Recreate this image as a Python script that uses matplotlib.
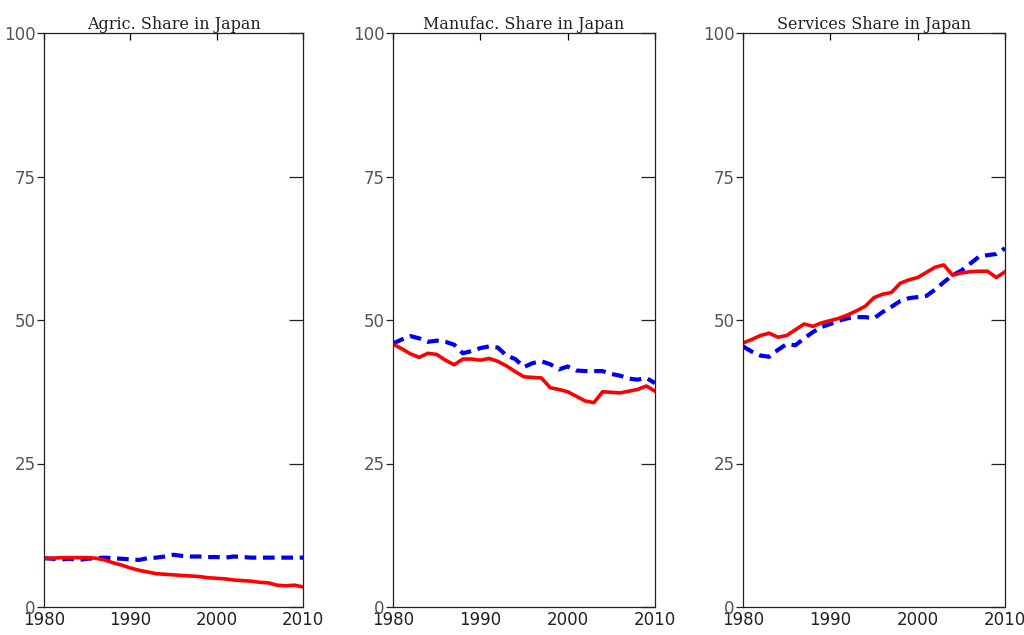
import matplotlib
matplotlib.use("Agg")
import matplotlib.pyplot as plt
from matplotlib import lines as mlines

years = list(range(1980, 2011))

agr_red = [8.5, 8.5, 8.6, 8.6, 8.6, 8.6, 8.5, 8.2, 7.7, 7.3, 6.8, 6.4, 6.1, 5.8, 5.7, 5.6,
           5.5, 5.4, 5.3, 5.1, 5.0, 4.9, 4.7, 4.6, 4.5, 4.3, 4.2, 3.8, 3.7, 3.8, 3.5]
agr_blue = [8.5, 8.4, 8.3, 8.4, 8.2, 8.4, 8.5, 8.6, 8.5, 8.4, 8.3, 8.2, 8.5, 8.6, 8.8, 9.1,
            8.9, 8.8, 8.8, 8.7, 8.7, 8.6, 8.8, 8.7, 8.6, 8.6, 8.6, 8.6, 8.6, 8.6, 8.6]

man_red = [45.8, 45.0, 44.1, 43.5, 44.2, 44.0, 43.0, 42.2, 43.2, 43.2, 43.0, 43.3, 42.8, 42.0,
           41.0, 40.1, 40.0, 39.9, 38.2, 37.9, 37.5, 36.7, 35.9, 35.6, 37.5, 37.4, 37.3, 37.6,
           37.9, 38.5, 37.6]
man_blue = [45.9, 46.6, 47.2, 46.8, 46.2, 46.4, 46.2, 45.7, 44.2, 44.6, 45.1, 45.4, 45.2, 43.8,
            43.2, 41.8, 42.5, 42.8, 42.3, 41.4, 41.9, 41.2, 41.1, 41.1, 41.1, 40.6, 40.3, 39.8,
            39.6, 39.9, 39.0]

ser_red = [46.0, 46.6, 47.3, 47.7, 47.0, 47.3, 48.3, 49.3, 48.9, 49.5, 49.9, 50.3, 50.9, 51.6,
           52.4, 53.9, 54.5, 54.8, 56.4, 57.0, 57.4, 58.3, 59.2, 59.6, 57.8, 58.2, 58.4, 58.5,
           58.5, 57.4, 58.4]
ser_blue = [45.4, 44.5, 43.8, 43.6, 44.8, 45.8, 45.6, 46.8, 47.9, 48.8, 49.3, 49.9, 50.3, 50.5,
            50.5, 50.3, 51.4, 52.3, 53.3, 53.8, 54.0, 54.2, 55.3, 56.6, 57.8, 58.6, 59.8, 61.0,
            61.3, 61.5, 62.5]

titles = ["Agric. Share in Japan", "Manufac. Share in Japan", "Services Share in Japan"]
reds = [agr_red, man_red, ser_red]
blues = [agr_blue, man_blue, ser_blue]
yticks = [0, 25, 50, 75, 100]
xticks = [1980, 1990, 2000, 2010]

fig = plt.figure(figsize=(10.24, 6.35), dpi=100)
lefts = [44, 393, 743]
widths = [259, 262, 262]
for i in range(3):
    ax = fig.add_axes([lefts[i] / 1024, 28 / 635, widths[i] / 1024, 574 / 635])
    ax.plot(years, blues[i], color="#0000ee", lw=3.0, dashes=(2.8, 1.6))
    ax.plot(years, reds[i], color="#ff0000", lw=2.6)
    ax.set_xlim(1980, 2010)
    ax.set_ylim(0, 100)
    ax.set_xticks(xticks)
    ax.set_yticks(yticks)
    ax.tick_params(axis="y", left=True, right=True, direction="out", length=5,
                   width=0.9, labelsize=12, labelcolor="#555555", color="#222222", pad=1)
    ax.tick_params(axis="x", bottom=False, top=True, direction="in", length=5,
                   width=0.9, labelsize=12, labelcolor="#222222", pad=3)
    for t in ax.yaxis.get_major_ticks():
        t.tick2line.set_marker(mlines.TICKLEFT)
        t.tick2line.set_markersize(10)
    for sp in ax.spines.values():
        sp.set_linewidth(0.9)
        sp.set_color("#222222")
    ax.set_title(titles[i], family="DejaVu Serif", fontsize=11.5, pad=3, color="#222222")

fig.savefig("out.png", dpi=100, facecolor="white")
